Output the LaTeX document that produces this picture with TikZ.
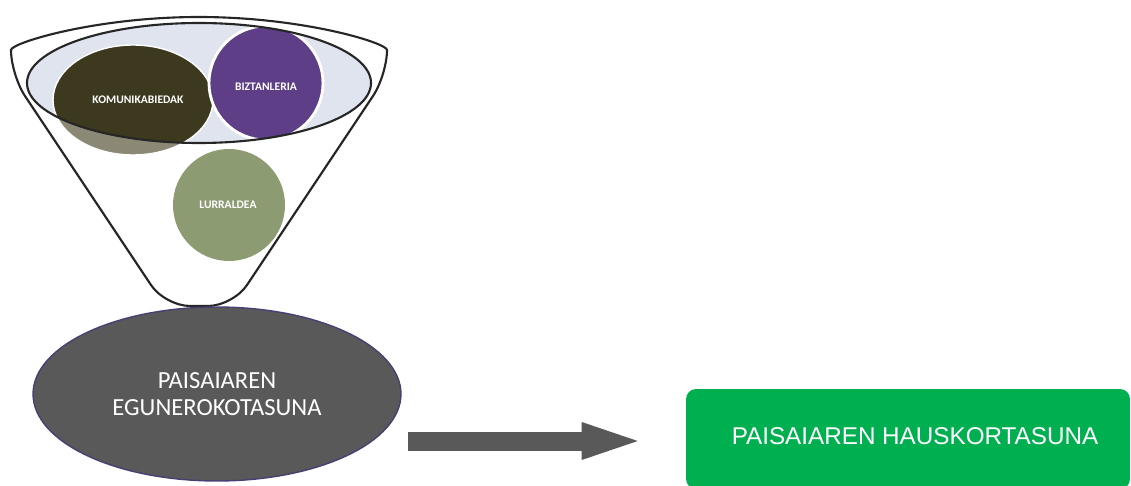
\documentclass[tikz,border=0pt]{standalone}
\usepackage{fontspec}
\setmainfont{Carlito}
\newfontfamily\arialfont{Liberation Sans}
\usetikzlibrary{arrows.meta, positioning, shapes.geometric, calc}
\definecolor{kombrown}{RGB}{60,57,30}
\definecolor{komfade}{RGB}{139,137,118}
\definecolor{bizpurple}{RGB}{93,62,135}
\definecolor{bizfade}{RGB}{150,132,176}
\definecolor{lurgreen}{RGB}{141,155,115}
\definecolor{rimfill}{RGB}{224,228,238}
\definecolor{egugray}{RGB}{89,89,89}
\definecolor{eguedge}{RGB}{75,62,115}
\definecolor{hausgreen}{RGB}{0,176,80}

\begin{document}
\begin{tikzpicture}[x=0.02cm, y=-0.02cm,
  funnelline/.style={draw=black!85, line width=1.2pt},
  smalltxt/.style={font=\fontsize{6.6}{8}\selectfont\bfseries, text=white, inner sep=0pt},
  bigoval/.style={ellipse, fill=egugray, draw=eguedge, line width=0.8pt,
                  minimum width=7.36cm, minimum height=3.48cm, align=center,
                  text=white, font=\fontsize{14}{15.5}\selectfont},
  greenbox/.style={rectangle, rounded corners=0.2cm, fill=hausgreen,
                   minimum width=8.88cm, minimum height=2cm, text=white,
                   font=\arialfont\fontsize{13.8}{15}\selectfont}
]
\clip (0,0) rectangle (1131,486);
\fill[white] (0,0) rectangle (1131,486);

% funnel
\draw[funnelline, fill=white, rounded corners=0.5cm]
  (11,75) arc[start angle=180, end angle=360, x radius=188, y radius=58]
  -- (233,306) -- (165,306) -- cycle;
\fill[rimfill] (199,83) ellipse [x radius=172, y radius=60];

% circles in the rim
\fill[komfade] (133,100) ellipse [x radius=80, y radius=55];
\begin{scope}
  \clip (199,83) ellipse [x radius=172, y radius=60];
  \fill[kombrown] (133,100) ellipse [x radius=80, y radius=55];
\end{scope}
\draw[white, line width=0.8pt] (133,100) ellipse [x radius=80, y radius=55];
\fill[bizfade] (266,83) circle [radius=57];
\begin{scope}
  \clip (199,83) ellipse [x radius=172, y radius=60];
  \fill[bizpurple] (266,83) circle [radius=57];
\end{scope}
\draw[white, line width=1.6pt] (266,83) circle [radius=57];
\draw[funnelline] (199,83) ellipse [x radius=172, y radius=60];
\fill[lurgreen] (229,205) circle [radius=56];

\node[smalltxt] (komtxt) at (138,100) {KOMUNIKABIEDAK};
\node[smalltxt] (biztxt) at (266,87) {BIZTANLERIA};
\node[smalltxt] (lurtxt) at (228,205) {LURRALDEA};

% result
\node[bigoval] (egu) at (217,394) {PAISAIAREN\\EGUNEROKOTASUNA};
\node[greenbox] (haus) at (908,439) {\hspace*{0.28cm}\raisebox{0.1cm}{PAISAIAREN HAUSKORTASUNA}};

\draw[egugray, line width=0.38cm, -{Triangle[length=1.12cm, width=0.76cm, line width=0pt]}]
  ($(egu.east |- haus.west)+(6,2)$) -- ($(haus.west)+(-48,2)$);
\end{tikzpicture}
\end{document}
